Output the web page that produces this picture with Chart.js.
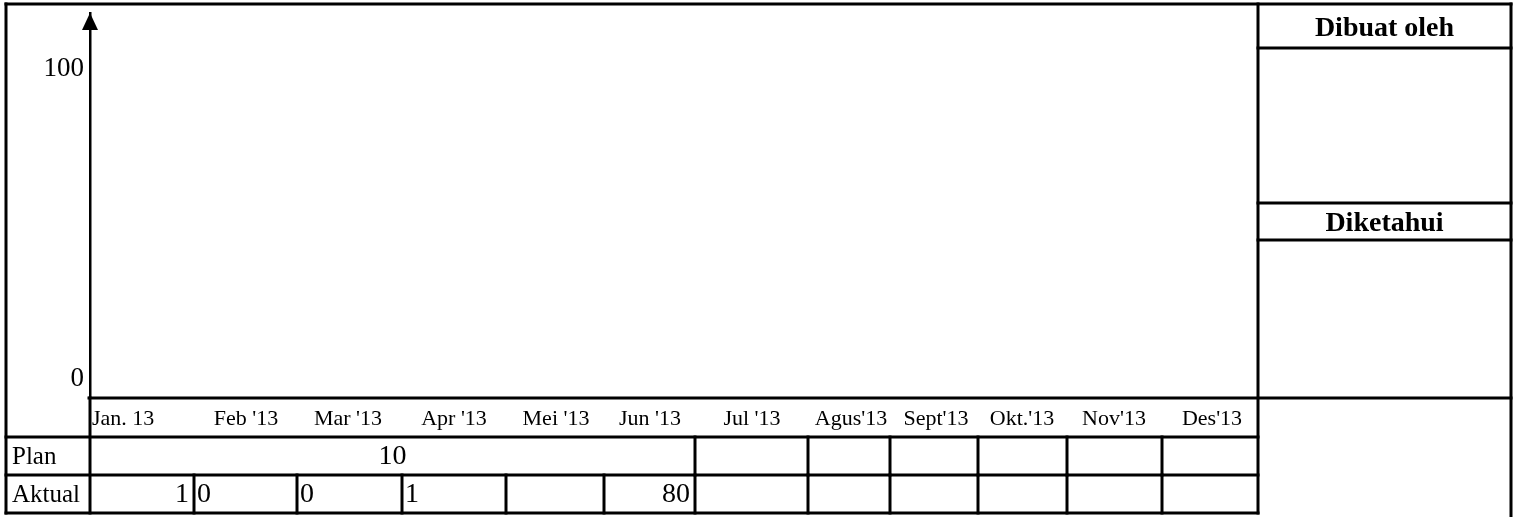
<!DOCTYPE html>
<html>
<head>
<meta charset="utf-8">
<title>Plan vs Aktual 2013</title>
<script src="https://cdn.jsdelivr.net/npm/chart.js@4/dist/chart.umd.min.js"></script>
<style>
  html, body { margin: 0; padding: 0; background: #fff; }
  #wrap { width: 1517px; height: 517px; position: relative; }
</style>
</head>
<body>
<div id="wrap"><canvas id="chart"></canvas></div>
<script>
/* ---------- data ---------- */
const months = ["Jan. 13", "Feb '13", "Mar '13", "Apr '13", "Mei '13", "Jun '13",
                "Jul '13", "Agus'13", "Sept'13", "Okt.'13", "Nov'13", "Des'13"];
const yTicks = [0, 100];
const rowLabels = ["Plan", "Aktual"];
// Plan: one merged cell over Jan..Jun, rest empty
const planValues = ["10", "", "", "", "", "", ""];
const aktualValues = ["1", "0", "0", "1", "", "80", "", "", "", "", "", ""];
const signTitles = ["Dibuat oleh", "Diketahui"];

/* ---------- layout (pixels) ---------- */
const monthCenters = [null, 246, 348, 454, 556, 650, 752, 851, 936, 1022, 1114, 1212];
const planEdges = [90, 695, 808, 890, 978, 1067, 1162, 1258];
const aktualEdges = [90, 194, 297, 402, 506, 604, 695, 808, 890, 978, 1067, 1162, 1258];
const aktualAlign = ['right', 'left', 'left', 'left', 'left', 'right', 'left', 'left', 'left', 'left', 'left', 'left'];
const rowY = { top: 398, months: 437, plan: 475, bottom: 513 };
const panel = { left: 1258, right: 1511, top: 4, lines: [48, 203, 240] };

const SERIF = '"Liberation Serif", "Times New Roman", serif';

const sheetPlugin = {
  id: 'sheet',
  afterDraw(chart) {
    const ctx = chart.ctx;
    const area = chart.chartArea;
    const L = 6, T = panel.top;
    ctx.save();
    ctx.strokeStyle = '#000';
    ctx.fillStyle = '#000';
    ctx.lineCap = 'square';

    function line(x1, y1, x2, y2, w) {
      ctx.lineWidth = w || 3;
      ctx.beginPath(); ctx.moveTo(x1, y1); ctx.lineTo(x2, y2); ctx.stroke();
    }

    // outer frame
    line(L, T, panel.right, T);
    line(L, T, L, rowY.bottom);
    line(panel.right, T, panel.right, 517);
    line(L, rowY.bottom, panel.left, rowY.bottom);
    line(panel.left, T, panel.left, rowY.bottom);

    // chart bottom and table rows
    line(area.left - 1, rowY.top, panel.right, rowY.top);
    line(L, rowY.months, panel.left, rowY.months);
    line(L, rowY.plan, panel.left, rowY.plan);
    line(area.left, rowY.top, area.left, rowY.bottom);

    planEdges.slice(1, -1).forEach(x => line(x, rowY.months, x, rowY.plan));
    aktualEdges.slice(1, -1).forEach(x => line(x, rowY.plan, x, rowY.bottom));

    // sign panel
    panel.lines.forEach(y => line(panel.left, y, panel.right, y));

    // y axis arrow head
    ctx.beginPath();
    ctx.moveTo(area.left, area.top);
    ctx.lineTo(area.left - 8, area.top + 17);
    ctx.lineTo(area.left + 8, area.top + 17);
    ctx.closePath();
    ctx.fill();

    // month labels
    ctx.font = '22px ' + SERIF;
    ctx.textBaseline = 'middle';
    const my = (rowY.top + rowY.months) / 2 + 2;
    months.forEach((m, i) => {
      if (monthCenters[i] === null) {
        ctx.textAlign = 'left';
        ctx.fillText(m, area.left + 2, my);
      } else {
        ctx.textAlign = 'center';
        ctx.fillText(m, monthCenters[i], my);
      }
    });

    // row labels
    ctx.font = '25px ' + SERIF;
    ctx.textAlign = 'left';
    const py = (rowY.months + rowY.plan) / 2 + 1;
    const ay = (rowY.plan + rowY.bottom) / 2 + 1;
    ctx.fillText(rowLabels[0], L + 6, py);
    ctx.fillText(rowLabels[1], L + 6, ay);

    // plan values
    ctx.font = '28px ' + SERIF;
    planValues.forEach((v, i) => {
      if (!v) return;
      ctx.textAlign = 'center';
      ctx.fillText(v, (planEdges[i] + planEdges[i + 1]) / 2, py);
    });

    // aktual values
    aktualValues.forEach((v, i) => {
      if (!v) return;
      ctx.textAlign = aktualAlign[i];
      const x = aktualAlign[i] === 'right' ? aktualEdges[i + 1] - 5 : aktualEdges[i] + 3;
      ctx.fillText(v, x, ay);
    });

    // sign titles
    ctx.font = 'bold 28px ' + SERIF;
    ctx.textAlign = 'center';
    const cx = (panel.left + panel.right) / 2;
    ctx.fillText(signTitles[0], cx, (T + panel.lines[0]) / 2 + 3);
    ctx.fillText(signTitles[1], cx, (panel.lines[1] + panel.lines[2]) / 2 + 2);

    ctx.restore();
  }
};

new Chart(document.getElementById('chart'), {
  type: 'line',
  data: {
    labels: months,
    datasets: [{ label: 'Plan', data: [], borderColor: '#000', pointRadius: 0 }]
  },
  options: {
    responsive: true,
    maintainAspectRatio: false,
    animation: false,
    events: [],
    layout: { padding: { left: 0, right: 259, top: 13, bottom: 119 } },
    plugins: { legend: { display: false }, tooltip: { enabled: false } },
    scales: {
      x: { display: false },
      y: {
        min: -6,
        max: 118,
        afterFit: s => { s.width = 90; s.paddingTop = 0; s.paddingBottom = 0; },
        afterBuildTicks: s => { s.ticks = yTicks.map(v => ({ value: v })); },
        grid: { display: false, drawTicks: false },
        border: { display: true, color: '#000', width: 2.5 },
        ticks: {
          color: '#000',
          padding: 6,
          font: { family: SERIF, size: 27 }
        }
      }
    }
  },
  plugins: [sheetPlugin]
});
</script>
</body>
</html>
